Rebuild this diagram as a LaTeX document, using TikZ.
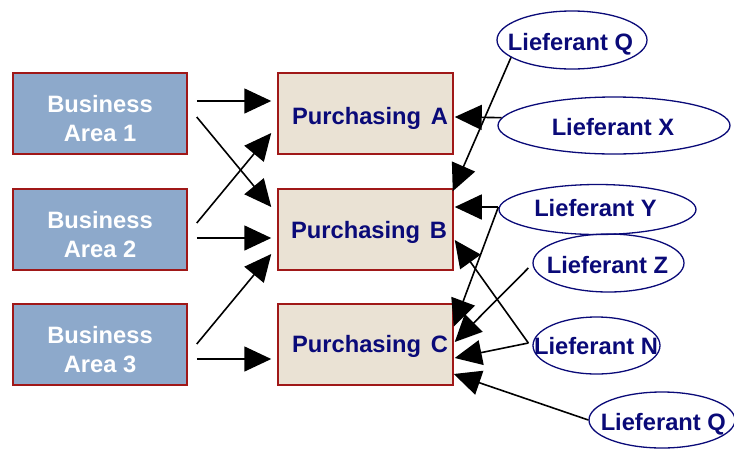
\documentclass[tikz,border=0pt]{standalone}
\usepackage{fontspec}
\setmainfont{Liberation Sans}
\usetikzlibrary{arrows.meta,shapes.geometric,calc}
\definecolor{areablue}{HTML}{8DA9CB}
\definecolor{buybeige}{HTML}{EAE2D4}
\definecolor{boxred}{HTML}{A01818}
\definecolor{navy}{HTML}{0A0A78}
\begin{document}
\begin{tikzpicture}[x=1pt,y=-1pt,
  lbl/.style={font=\bfseries\fontsize{23.7}{29}\selectfont, inner sep=0},
  area/.style={draw=boxred, line width=1.5pt, fill=areablue,
    minimum width=174, minimum height=81, inner sep=0},
  areatxt/.style={lbl, text=white, align=center},
  buy/.style={draw=boxred, line width=1.5pt, fill=buybeige,
    minimum width=175, minimum height=81, inner sep=0},
  buytxt/.style={lbl, text=navy, anchor=base},
  ell/.style={ellipse, draw=navy, line width=1.3pt, inner sep=0},
  ltxt/.style={lbl, text=navy, anchor=base},
  link/.style={line width=1.6pt, -{Triangle[length=27pt,width=25pt]}}
]
\useasboundingbox (0,0) rectangle (734,448);

% business areas
\node[area] (ba1) at (100,113.5) {};
\node[area] (ba2) at (100,229.5) {};
\node[area] (ba3) at (100,344.5) {};
\node[areatxt] (ba1t) at ($(ba1)+(0,5)$) {Business\\ Area 1};
\node[areatxt] (ba2t) at ($(ba2)+(0,5)$) {Business\\ Area 2};
\node[areatxt] (ba3t) at ($(ba3)+(0,5)$) {Business\\ Area 3};

% purchasing units
\node[buy] (pa) at (365.5,113.5) {};
\node[buy] (pb) at (365.5,229.5) {};
\node[buy] (pc) at (365.5,344.5) {};
\node[buytxt] (pat) at (370,124) {Purchasing\hspace{3pt} A};
\node[buytxt] (pbt) at (369,238) {Purchasing\hspace{3pt} B};
\node[buytxt] (pct) at (370,352) {Purchasing\hspace{3pt} C};

% suppliers
\node[ell, minimum width=150, minimum height=58] (lq) at (572,40) {};
\node[ell, minimum width=232, minimum height=57] (lx) at (614,125.5) {};
\node[ell, minimum width=197, minimum height=50] (ly) at (597.5,209.5) {};
\node[ell, minimum width=151, minimum height=58] (lz) at (608.5,263) {};
\node[ell, minimum width=127, minimum height=57] (ln) at (596.5,345.5) {};
\node[ell, minimum width=146, minimum height=56] (lqb) at (662,420) {};
\node[ltxt] (lqt) at (570.5,50) {Lieferant Q};
\node[ltxt] (lxt) at (613,135) {Lieferant X};
\node[ltxt] (lyt) at (595.5,216) {Lieferant Y};
\node[ltxt] (lzt) at (607.5,273.3) {Lieferant Z};
\node[ltxt] (lnt) at (596,354) {Lieferant N};
\node[ltxt] (lqbt) at (663.3,430) {Lieferant Q};

% business areas to purchasing
\draw[link] ($(ba1.east)+(9,-12.5)$) -- ($(pa.west)+(-6,-12.5)$);
\draw[link] ($(ba1.east)+(9,3.5)$) -- ($(pb.west)+(-6,-22.5)$);
\draw[link] ($(ba2.east)+(9,-6.5)$) -- ($(pa.west)+(-6,19.5)$);
\draw[link] ($(ba2.east)+(9,8.5)$) -- ($(pb.west)+(-6,8.5)$);
\draw[link] ($(ba3.east)+(9,-0.5)$) -- ($(pb.west)+(-6,24.5)$);
\draw[link] ($(ba3.east)+(9,14.5)$) -- ($(pc.west)+(-6,14.5)$);

% suppliers to purchasing
\draw[link] (lx.176) -- ($(pa.east)+(1,3.5)$);
\draw[link] (lq.196) -- ($(pb.north east)+(-1,3)$);
\draw[link] ($(ly.west)+(0,-2.5)$) -- ($(pb.east)+(1,-22.5)$);
\draw[link] ($(ln.west)+(-4,-2.5)$) -- ($(pb.east)+(1,10.5)$);
\draw[link] ($(ly.west)+(0,-2.5)$) -- ($(pc.east)+(0,-18)$);
\draw[link] ($(lz.west)+(-4,5)$) -- ($(pc.east)+(1,-2.5)$);
\draw[link] ($(ln.west)+(-4,-2.5)$) -- ($(pc.east)+(1,13.5)$);
\draw[link] (lqb.west) -- ($(pc.east)+(0,29.5)$);
\end{tikzpicture}
\end{document}
